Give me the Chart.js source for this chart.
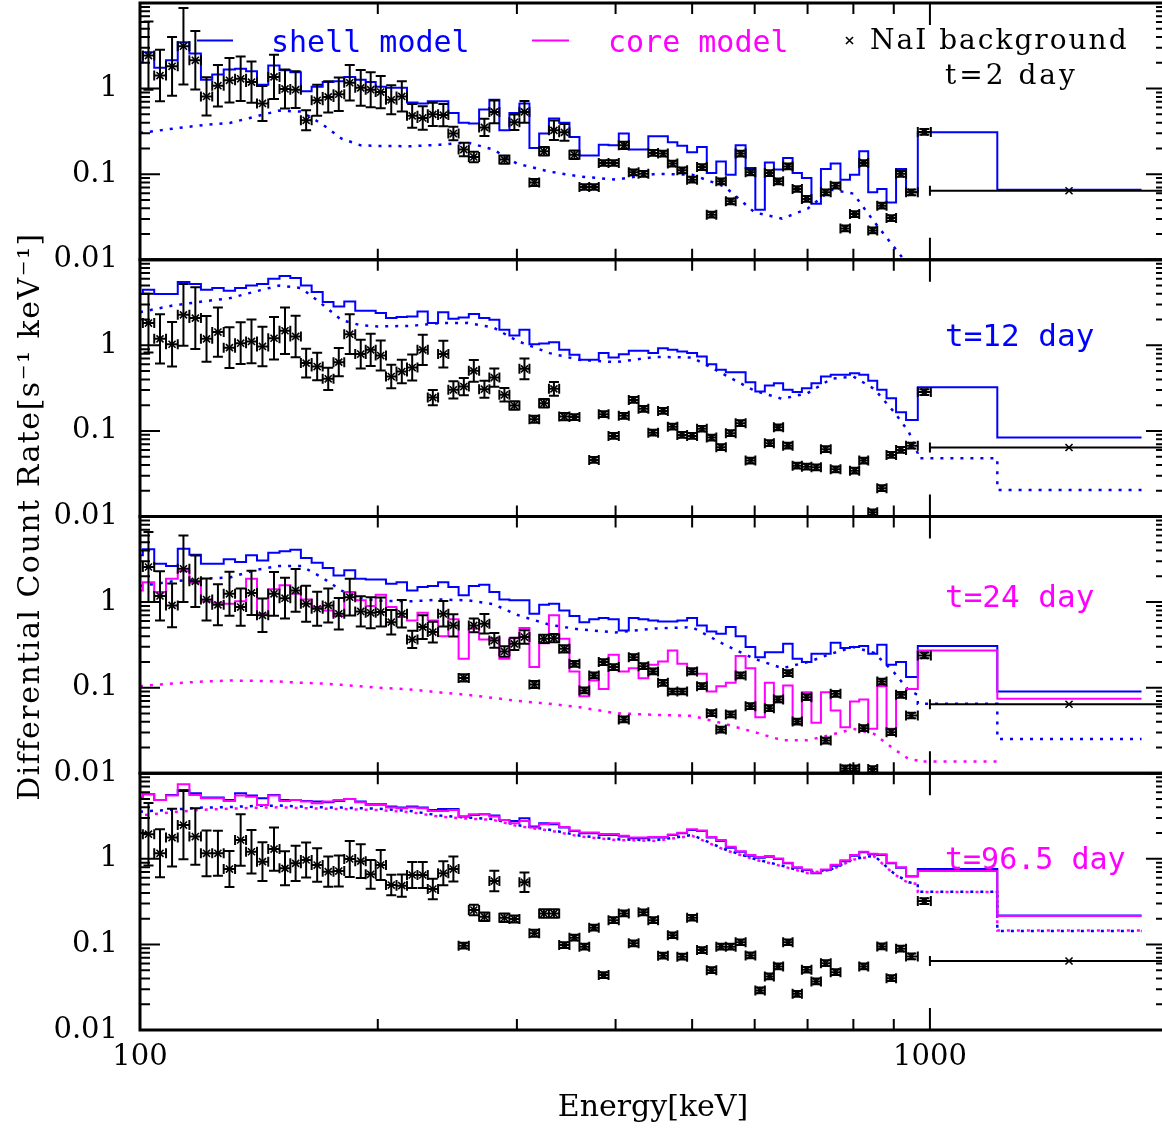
<!DOCTYPE html>
<html>
<head>
<meta charset="utf-8">
<title>Differential count rate spectra</title>
<script src="https://cdn.jsdelivr.net/npm/chart.js@4.4.1/dist/chart.umd.min.js"></script>
<style>
  html, body { margin: 0; padding: 0; background: #fff; overflow: hidden; width: 1162px; height: 1130px; }
  #wrap { position: absolute; left: 0; top: 0; width: 1166px; height: 1130px; }
</style>
</head>
<body>
<div id="wrap"><canvas id="spectra" width="1166" height="1130" style="width:1166px;height:1130px"></canvas></div>
<script>
// ---- channel centre energies (keV) ----
const energy = [99.2,
  102.5, 106.0, 109.8, 113.5, 117.5, 121.4, 125.5, 129.8, 134.1, 138.4,
  142.9, 147.8, 152.6, 157.4, 162.3, 167.6, 173.1, 178.5, 184.3, 190.3,
  195.9, 201.7, 208.0, 214.5, 221.1, 228.0, 234.8, 242.1, 249.3, 257.0,
  264.6, 272.9, 280.9, 289.3, 297.8, 306.7, 315.7, 324.6, 334.2, 344.6,
  354.8, 365.3, 375.6, 386.2, 397.6, 410.0, 421.5, 434.0, 446.2, 459.4,
  472.3, 485.6, 500.0, 514.6, 529.1, 544.0, 559.4, 575.9, 592.9, 609.5,
  626.7, 642.5, 661.4, 679.0, 698.2, 717.8, 738.0, 759.8, 781.2, 803.1,
  824.5, 846.4, 869.0, 893.5, 918.7, 947.1, 983.8];
// upper edges of the two broad model bins (keV)
const wideEdges = [1217, 1853];
// energies at which the continuum (dotted) curves are tabulated (keV)
const curveEnergy = [100, 110, 120, 130, 140, 150, 160, 170, 180, 190, 200, 220, 240, 260, 280, 300,
  330, 360, 400, 450, 500, 550, 600, 650, 700, 750, 800, 850, 900, 940, 965];

// ---- NaI background ----
const bgEnergy = 1500;
const bgRange = [1000, 2250];
const bgRate = 0.064;

// ---- tick labels ----
const yTickVals = [0.01, 0.1, 1];
const yTickText = ['0.01', '0.1', '1'];
const xTickVals = [100, 1000];
const xTickText = ['100', '1000'];

// ---- t = 2 day ----
const rateDay2 = [null,
  2.43, 1.42, 1.82, 3.13, 2.14, 0.81, 1.08, 1.25, 1.30, 1.19,
  0.67, 1.37, 0.99, 0.97, 0.426, 0.73, 0.80, 0.86, 1.17, 1.02,
  0.97, 0.91, 0.74, 0.81, 0.48, 0.454, 0.50, 0.49, 0.298, 0.194,
  0.159, 0.352, 0.534, 0.148, 0.404, 0.534, 0.080, 0.185, 0.325, 0.308,
  0.169, 0.0708, 0.0708, 0.135, 0.135, 0.217, 0.105, 0.101, 0.177, 0.174,
  0.133, 0.111, 0.0863, 0.121, 0.0336, 0.0824, 0.0481, 0.174, 0.105, null,
  0.103, 0.0824, 0.123, 0.0671, 0.0513, null, 0.0613, 0.0734, 0.0232, 0.0342,
  0.135, 0.0220, 0.0428, 0.0307, 0.101, 0.0613, 0.312];
const errDay2 = [null,
  2.5, 2.0, 2.2, 2.8, 2.2, 1.67, 1.75, 1.82, 1.82, 1.74,
  1.6, 1.81, 1.69, 1.64, 1.31, 1.52, 1.52, 1.57, 1.61, 1.62,
  1.6, 1.54, 1.48, 1.5, 1.38, 1.37, 1.37, 1.35, 1.2, 1.2,
  1.15, 1.26, 1.36, 1.12, 1.23, 1.34, 1.1, 1.12, 1.3, 1.25,
  1.12, 1.08, 1.08, 1.08, 1.08, 1.1, 1.08, 1.08, 1.08, 1.08,
  1.08, 1.08, 1.08, 1.08, 1.08, 1.08, 1.08, 1.08, 1.08, 1.08,
  1.08, 1.08, 1.08, 1.08, 1.08, 1.08, 1.08, 1.08, 1.08, 1.08,
  1.08, 1.08, 1.08, 1.08, 1.08, 1.08, 1.08];
const shellDay2 = [2.03, 2.66, 1.75, 2.14, 3.48, 2.57, 1.27, 1.46, 1.67, 1.71,
  1.59, 1.11, 1.86, 1.64, 1.55, 0.93, 1.05, 1.19, 1.22, 1.37,
  1.27, 1.19, 1.05, 1.02, 1.02, 0.69, 0.67, 0.71, 0.71, 0.52,
  0.40, 0.39, 0.57, 0.74, 0.325, 0.52, 0.67, 0.202, 0.298, 0.446,
  0.40, 0.272, 0.165, 0.165, 0.221, 0.218, 0.298, 0.194, 0.194, 0.277,
  0.277, 0.236, 0.215, 0.180, 0.208, 0.103, 0.141, 0.0987, 0.217, 0.118,
  0.0385, 0.137, 0.113, 0.155, 0.103, 0.0903, 0.0452, 0.115, 0.133, 0.0863,
  0.0987, 0.185, 0.0613, 0.0671, 0.0468, 0.115, 0.0613, 0.308, 0.0659];
const shellContDay2 = [0.303, 0.340, 0.374, 0.397, 0.471, 0.553, 0.538, 0.385, 0.260, 0.218, 0.214,
  0.212, 0.221, 0.234, 0.194, 0.133, 0.107, 0.0942, 0.0863, 0.101, 0.0987, 0.0714, 0.0357, 0.0302,
  0.0395, 0.0659, 0.0592, 0.0278, 0.0142, 0.0085, 0.006];
const shellContDay2Wide = [null, null];

// ---- t = 12 day ----
const rateDay12 = [null,
  1.82, 1.19, 1.03, 2.27, 2.08, 1.19, 1.43, 0.94, 1.06, 1.11,
  0.97, 1.21, 1.48, 1.27, 0.62, 0.565, 0.406, 0.636, 1.35, 0.79,
  0.885, 0.76, 0.432, 0.494, 0.55, 0.885, 0.245, 0.79, 0.302, 0.330,
  0.503, 0.307, 0.420, 0.264, 0.198, 0.531, 0.137, 0.211, 0.310, 0.147,
  0.145, null, 0.0458, 0.157, 0.0874, 0.150, 0.230, 0.181, 0.0955, 0.171,
  0.112, 0.0898, 0.0874, 0.106, 0.0835, 0.0645, 0.094, 0.123, 0.045, null,
  0.0718, 0.110, 0.0673, 0.0393, 0.0382, 0.0376, 0.0611, 0.0356, null, 0.0343,
  0.0450, 0.0112, 0.0214, 0.0524, 0.060, 0.0673, 0.284];
const errDay12 = [null,
  2.2, 1.94, 1.82, 2.3, 2.3, 1.85, 1.94, 1.73, 1.75, 1.8,
  1.7, 1.77, 1.87, 1.75, 1.47, 1.45, 1.35, 1.46, 1.71, 1.47,
  1.54, 1.5, 1.37, 1.37, 1.42, 1.5, 1.23, 1.43, 1.26, 1.26,
  1.34, 1.26, 1.28, 1.2, 1.12, 1.32, 1.1, 1.12, 1.2, 1.1,
  1.08, 1.08, 1.08, 1.08, 1.08, 1.08, 1.08, 1.08, 1.08, 1.08,
  1.08, 1.08, 1.08, 1.08, 1.08, 1.08, 1.08, 1.08, 1.08, 1.08,
  1.08, 1.08, 1.08, 1.08, 1.08, 1.08, 1.08, 1.08, 1.08, 1.08,
  1.08, 1.08, 1.08, 1.08, 1.08, 1.08, 1.08];
const shellDay12 = [3.97, 4.46, 3.97, 3.97, 5.48, 5.20, 4.46, 4.67, 4.34, 4.67,
  5.00, 5.20, 6.00, 6.44, 6.11, 5.00, 4.19, 3.20, 2.84, 3.25,
  2.53, 2.53, 2.38, 2.08, 2.14, 2.17, 2.48, 1.82, 2.44, 2.04,
  2.11, 2.32, 2.08, 1.99, 1.52, 1.30, 1.52, 1.03, 1.05, 1.09,
  0.885, 0.774, 0.677, 0.677, 0.811, 0.720, 0.789, 0.862, 0.862, 0.811,
  0.927, 0.885, 0.846, 0.811, 0.739, 0.603, 0.517, 0.486, 0.486, 0.371,
  0.288, 0.339, 0.361, 0.302, 0.284, 0.316, 0.361, 0.432, 0.452, 0.452,
  0.473, 0.452, 0.385, 0.302, 0.241, 0.165, 0.134, 0.324, 0.0835];
const shellContDay12 = [2.44, 2.92, 3.25, 3.56, 4.26, 5.00, 4.67, 3.03, 1.97, 1.72, 1.66,
  1.69, 1.82, 1.83, 1.62, 1.13, 0.811, 0.677, 0.636, 0.733, 0.720, 0.452, 0.294, 0.237,
  0.276, 0.406, 0.432, 0.310, 0.168, 0.0982, 0.0548];
const shellContDay12Wide = [0.048, 0.0204];

// ---- t = 24 day ----
const rateDay24 = [null,
  2.57, 1.18, 0.915, 2.45, 1.75, 1.07, 0.93, 1.25, 0.875, 1.28,
  0.70, 1.25, 1.11, 1.37, 0.955, 0.836, 0.915, 0.73, 1.14, 0.778,
  0.75, 0.765, 0.583, 0.73, 0.366, 0.51, 0.446, 0.73, 0.534, 0.130,
  0.534, 0.557, 0.356, 0.265, 0.325, 0.39, 0.109, 0.372, 0.379, 0.284,
  0.190, 0.0927, 0.139, 0.199, 0.174, 0.0425, 0.227, 0.178, 0.155, 0.114,
  0.0902, 0.0902, 0.155, 0.104, 0.0503, 0.0324, 0.0486, 0.139, 0.0608, null,
  0.0576, 0.0728, 0.148, 0.0402, 0.0774, null, 0.0241, 0.0847, 0.0114, 0.0114,
  0.0336, 0.0112, 0.118, 0.0302, 0.0824, 0.0473, 0.238];
const errDay24 = [null,
  2.57, 1.94, 1.8, 2.45, 2.0, 1.76, 1.74, 1.81, 1.65, 1.81,
  1.57, 1.8, 1.73, 1.78, 1.62, 1.58, 1.58, 1.53, 1.64, 1.5,
  1.52, 1.48, 1.39, 1.45, 1.26, 1.38, 1.32, 1.41, 1.35, 1.1,
  1.2, 1.3, 1.22, 1.15, 1.18, 1.2, 1.1, 1.12, 1.12, 1.1,
  1.08, 1.08, 1.08, 1.08, 1.08, 1.08, 1.08, 1.08, 1.08, 1.08,
  1.08, 1.08, 1.08, 1.08, 1.08, 1.08, 1.08, 1.08, 1.08, 1.08,
  1.08, 1.08, 1.08, 1.08, 1.08, 1.08, 1.08, 1.08, 1.08, 1.08,
  1.08, 1.08, 1.08, 1.08, 1.08, 1.08, 1.08];
const shellDay24 = [3.52, 4.13, 2.81, 2.64, 4.20, 3.57, 2.81, 2.81, 3.16, 2.94,
  3.52, 3.07, 3.78, 3.92, 4.09, 3.27, 2.88, 2.50, 2.05, 2.35,
  1.87, 1.84, 1.84, 1.64, 1.71, 1.37, 1.50, 1.54, 1.71, 1.50,
  1.20, 1.54, 1.59, 1.31, 1.07, 1.05, 1.05, 0.73, 0.93, 0.955,
  0.80, 0.686, 0.583, 0.628, 0.650, 0.628, 0.467, 0.650, 0.628, 0.611,
  0.594, 0.594, 0.611, 0.650, 0.534, 0.454, 0.426, 0.51, 0.40, 0.298,
  0.227, 0.260, 0.260, 0.325, 0.217, 0.199, 0.249, 0.249, 0.334, 0.290,
  0.298, 0.306, 0.249, 0.317, 0.185, 0.199, 0.133, 0.306, 0.0903];
const coreDay24 = [1.37, 1.71, 1.31, 1.87, 2.29, 1.68, 1.02, 0.98, 0.955, 1.02,
  1.87, 0.73, 1.41, 1.57, 1.25, 1.07, 0.875, 0.80, 0.686, 1.31,
  1.05, 0.898, 1.22, 0.875, 0.668, 0.611, 0.75, 0.611, 0.40, 0.628,
  0.217, 0.487, 0.366, 0.379, 0.217, 0.379, 0.497, 0.174, 0.33, 0.70,
  0.372, 0.155, 0.0796, 0.121, 0.0968, 0.242, 0.155, 0.169, 0.129, 0.185,
  0.202, 0.272, 0.190, 0.169, 0.145, 0.0903, 0.104, 0.114, 0.234, 0.169,
  0.0452, 0.114, 0.0677, 0.106, 0.0377, 0.0886, 0.0388, 0.0886, 0.0541, 0.0345,
  0.069, 0.0728, 0.033, 0.104, 0.033, 0.0847, 0.0968, 0.272, 0.074];
const shellContDay24 = [1.54, 1.75, 1.87, 1.94, 2.37, 2.64, 2.64, 1.94, 1.36, 1.11, 1.04,
  1.02, 1.07, 1.05, 0.948, 0.71, 0.543, 0.480, 0.442, 0.492, 0.51, 0.317, 0.217, 0.169,
  0.199, 0.249, 0.298, 0.255, 0.152, 0.0927, 0.0824];
const shellContDay24Wide = [0.0647, 0.0252];
const coreContDay24 = [0.104, 0.112, 0.118, 0.121, 0.12, 0.118, 0.114, 0.112, 0.108, 0.104, 0.100,
  0.0953, 0.0879, 0.0824, 0.076, 0.0701, 0.0647, 0.0592, 0.0503, 0.0481, 0.0468, 0.0377, 0.0302, 0.0243,
  0.0243, 0.0281, 0.033, 0.0288, 0.0192, 0.0147, 0.0141];
const coreContDay24Wide = [0.0137, null];

// ---- t = 96.5 day ----
const rateDay96 = [null,
  1.94, 1.16, 1.77, 2.48, 1.82, 1.16, 1.16, 0.76, 1.66, 1.21,
  0.927, 1.30, 0.774, 0.885, 0.97, 0.846, 0.708, 0.72, 0.995, 0.94,
  0.659, 0.846, 0.494, 0.486, 0.647, 0.647, 0.444, 0.677, 0.76, 0.0966,
  0.252, 0.211, 0.55, 0.205, 0.198, 0.531, 0.135, 0.230, 0.230, 0.0982,
  0.120, 0.094, 0.157, 0.0438, 0.192, 0.230, 0.103, 0.237, 0.192, 0.0738,
  0.128, 0.0718, 0.205, 0.0858, 0.050, 0.094, 0.094, 0.106, 0.0743, 0.029,
  0.0423, 0.0553, 0.106, 0.0265, 0.0506, 0.0369, 0.0604, 0.0474, null, null,
  0.0553, null, 0.0948, 0.0403, 0.0891, 0.0724, 0.321];
const errDay96 = [null,
  2.32, 1.91, 2.18, 2.5, 2.14, 1.85, 1.83, 1.62, 2.0, 1.79,
  1.68, 1.79, 1.58, 1.61, 1.6, 1.57, 1.5, 1.52, 1.62, 1.57,
  1.47, 1.5, 1.32, 1.35, 1.42, 1.42, 1.32, 1.38, 1.4, 1.08,
  1.15, 1.12, 1.32, 1.12, 1.1, 1.3, 1.1, 1.12, 1.12, 1.08,
  1.08, 1.08, 1.08, 1.08, 1.08, 1.08, 1.08, 1.08, 1.08, 1.08,
  1.08, 1.08, 1.08, 1.08, 1.08, 1.08, 1.08, 1.08, 1.08, 1.08,
  1.08, 1.08, 1.08, 1.08, 1.08, 1.08, 1.08, 1.08, 1.08, 1.08,
  1.08, 1.08, 1.08, 1.08, 1.08, 1.08, 1.08];
const shellDay96 = [5.10, 5.68, 4.87, 5.57, 6.38, 5.84, 5.20, 5.20, 4.87, 5.84,
  5.48, 5.10, 5.57, 4.87, 4.87, 4.74, 4.67, 4.58, 4.74, 5.00,
  4.67, 4.34, 4.34, 4.08, 3.97, 4.08, 3.97, 3.72, 3.82, 3.82,
  3.12, 3.25, 3.31, 3.20, 2.84, 2.77, 2.98, 2.38, 2.60, 2.53,
  2.32, 2.11, 1.99, 1.99, 1.90, 1.90, 1.82, 1.74, 1.74, 1.77,
  1.77, 1.90, 1.99, 2.17, 2.11, 1.77, 1.62, 1.35, 1.21, 1.09,
  1.03, 1.06, 0.995, 0.885, 0.789, 0.739, 0.677, 0.739, 0.832, 0.94,
  1.09, 1.19, 1.13, 1.11, 0.885, 0.789, 0.62, 0.76, 0.217];
const coreDay96 = [5.00, 5.68, 4.87, 5.48, 7.43, 5.57, 5.10, 5.10, 4.74, 5.48,
  5.30, 4.26, 5.48, 4.74, 4.87, 4.67, 4.46, 4.67, 4.87, 5.00,
  4.58, 4.26, 4.26, 3.97, 3.90, 3.97, 3.90, 3.62, 3.62, 3.72,
  3.12, 3.31, 3.31, 3.12, 2.84, 2.60, 2.77, 2.32, 2.53, 2.60,
  2.36, 2.15, 2.03, 2.03, 1.95, 1.95, 1.86, 1.78, 1.78, 1.80,
  1.80, 1.93, 2.02, 2.21, 2.15, 1.80, 1.66, 1.38, 1.23, 1.11,
  1.05, 1.08, 1.01, 0.90, 0.80, 0.75, 0.69, 0.75, 0.85, 0.96,
  1.11, 1.21, 1.15, 1.13, 0.90, 0.80, 0.63, 0.72, 0.215];
const shellContDay96 = [3.56, 3.76, 3.97, 4.03, 4.15, 4.19, 4.08, 4.00, 3.97, 3.90, 3.86,
  3.62, 3.20, 3.03, 2.92, 2.48, 2.19, 1.87, 1.69, 1.65, 1.90, 1.29, 0.995, 0.832,
  0.69, 0.754, 0.995, 1.09, 0.677, 0.531, 0.517];
const shellContDay96Wide = [0.413, 0.143];
const coreContDay96 = [3.2, 3.5, 3.75, 3.85, 3.95, 4.0, 3.92, 3.85, 3.82, 3.76, 3.72,
  3.5, 3.1, 2.95, 2.85, 2.42, 2.14, 1.83, 1.66, 1.62, 1.86, 1.27, 0.98, 0.82,
  0.68, 0.74, 0.98, 1.07, 0.665, 0.52, 0.51];
const coreContDay96Wide = [0.41, 0.145];

// ---- derived geometry: channel boundaries (geometric mid-points) ----
const bounds = [];
bounds.push(energy[0] * energy[0] / Math.sqrt(energy[0] * energy[1]));
for (let i = 1; i < energy.length; i++) bounds.push(Math.sqrt(energy[i - 1] * energy[i]));
bounds.push(energy[energy.length - 1] * energy[energy.length - 1] / bounds[bounds.length - 1]);

function points(rate, err) {
  return energy.map((e, i) => ({ x: e, y: rate[i], xMin: bounds[i], xMax: bounds[i + 1], f: err[i] }));
}
function steps(vals) {
  const edges = bounds.slice(0, 78).concat(wideEdges);
  const pts = vals.map((v, i) => ({ x: edges[i], y: v }));
  pts.push({ x: edges[edges.length - 1], y: vals[vals.length - 1] });
  return pts;
}
function curve(vals, wide) {
  const pts = curveEnergy.map((e, i) => ({ x: e, y: vals[i] }));
  if (wide[0] != null) {
    pts.push({ x: bounds[77], y: wide[0] }, { x: wideEdges[0], y: wide[0] });
    if (wide[1] != null) pts.push({ x: wideEdges[0], y: wide[1] }, { x: wideEdges[1], y: wide[1] });
  }
  return pts;
}
function background() {
  return [{ x: bgEnergy, y: bgRate, xMin: bgRange[0], xMax: bgRange[1], f: 1 }];
}

const BLUE = '#0000ff', MAGENTA = '#ff00ff', BLACK = '#000000';

function dataSet(pts, axis) {
  return { type: 'line', data: pts, yAxisID: axis, showLine: false, errorBars: true, order: 0,
    pointStyle: 'crossRot', pointRadius: 5, pointBorderWidth: 1.6, pointBorderColor: BLACK,
    pointBackgroundColor: BLACK, borderColor: BLACK };
}
function stepSet(pts, axis, color, order) {
  return { type: 'line', data: pts, yAxisID: axis, stepped: true, borderColor: color, borderWidth: 2,
    pointRadius: 0, fill: false, order: order };
}
function curveSet(pts, axis, color, order, offset) {
  return { type: 'line', data: pts, yAxisID: axis, borderColor: color, borderWidth: 2.5,
    borderDash: [3, 7], borderDashOffset: offset || 0, pointRadius: 0, fill: false, tension: 0, order: order };
}

const datasets = [
  dataSet(points(rateDay2, errDay2), 'yDay2'),
  dataSet(background(), 'yDay2'),
  stepSet(steps(shellDay2), 'yDay2', BLUE, 3),
  curveSet(curve(shellContDay2, shellContDay2Wide), 'yDay2', BLUE, 5),

  dataSet(points(rateDay12, errDay12), 'yDay12'),
  dataSet(background(), 'yDay12'),
  stepSet(steps(shellDay12), 'yDay12', BLUE, 3),
  curveSet(curve(shellContDay12, shellContDay12Wide), 'yDay12', BLUE, 5),

  dataSet(points(rateDay24, errDay24), 'yDay24'),
  dataSet(background(), 'yDay24'),
  stepSet(steps(coreDay24), 'yDay24', MAGENTA, 2),
  stepSet(steps(shellDay24), 'yDay24', BLUE, 3),
  curveSet(curve(coreContDay24, coreContDay24Wide), 'yDay24', MAGENTA, 4),
  curveSet(curve(shellContDay24, shellContDay24Wide), 'yDay24', BLUE, 5),

  dataSet(points(rateDay96, errDay96), 'yDay96'),
  dataSet(background(), 'yDay96'),
  stepSet(steps(coreDay96), 'yDay96', MAGENTA, 2),
  stepSet(steps(shellDay96), 'yDay96', BLUE, 3),
  curveSet(curve(coreContDay96, coreContDay96Wide), 'yDay96', MAGENTA, 4, 5),
  curveSet(curve(shellContDay96, shellContDay96Wide), 'yDay96', BLUE, 5)
];

const panelIds = ['yDay2', 'yDay12', 'yDay24', 'yDay96'];
const CAP = 5;
const SERIF = 'DejaVu Serif';
const MONO = 'DejaVu Sans Mono';

function yAxis(weight) {
  return {
    type: 'logarithmic', position: 'left', stack: 'panels', stackWeight: 1, weight: weight,
    min: 0.01, max: 10, offset: false,
    grid: { display: false, drawTicks: false }, border: { display: false },
    afterBuildTicks: s => { s.ticks = yTickVals.map(v => ({ value: v })); },
    afterFit: s => { s.width = 140; s.paddingTop = 0; s.paddingBottom = 0; },
    ticks: { font: { family: SERIF, size: 29 }, color: BLACK, padding: 22, autoSkip: false,
      callback: (v, i) => yTickText[i] }
  };
}

function drawText(ctx, text, x, y, font, color, spacing) {
  ctx.font = font;
  ctx.fillStyle = color;
  ctx.letterSpacing = spacing || '0px';
  ctx.textAlign = 'left';
  ctx.textBaseline = 'alphabetic';
  ctx.fillText(text, x, y);
  ctx.letterSpacing = '0px';
}

const panelPlugin = {
  id: 'panelPlugin',
  beforeDatasetDraw(chart, args) {
    const ds = chart.data.datasets[args.index];
    const ys = chart.scales[ds.yAxisID];
    const xs = chart.scales.x;
    const a = chart.chartArea;
    const ctx = chart.ctx;
    ctx.save();
    ctx.beginPath();
    ctx.rect(a.left, ys.top, a.right - a.left, ys.bottom - ys.top);
    ctx.clip();
    if (ds.errorBars) {
      ctx.save();
      ctx.strokeStyle = BLACK;
      ctx.lineWidth = 2;
      ctx.beginPath();
      for (const p of ds.data) {
        if (p.y == null) continue;
        const px = xs.getPixelForValue(p.x), py = ys.getPixelForValue(p.y);
        const xa = xs.getPixelForValue(p.xMin), xb = xs.getPixelForValue(p.xMax);
        ctx.moveTo(xa, py); ctx.lineTo(xb, py);
        ctx.moveTo(xa, py - CAP); ctx.lineTo(xa, py + CAP);
        ctx.moveTo(xb, py - CAP); ctx.lineTo(xb, py + CAP);
        if (p.f > 1) {
          const ya = ys.getPixelForValue(p.y * p.f), yb = ys.getPixelForValue(p.y / p.f);
          ctx.moveTo(px, ya); ctx.lineTo(px, yb);
          ctx.moveTo(px - CAP, ya); ctx.lineTo(px + CAP, ya);
          ctx.moveTo(px - CAP, yb); ctx.lineTo(px + CAP, yb);
        }
      }
      ctx.stroke();
      ctx.restore();
    }
  },
  afterDatasetDraw(chart) {
    chart.ctx.restore();
  },
  afterDraw(chart) {
    const ctx = chart.ctx, xs = chart.scales.x, a = chart.chartArea;
    ctx.save();
    ctx.strokeStyle = BLACK;
    // frames and inward ticks for every panel
    for (const id of panelIds) {
      const ys = chart.scales[id];
      ctx.lineWidth = 2;
      ctx.beginPath();
      for (let k = -2; k <= 1; k++) {
        for (let m = 1; m <= 9; m++) {
          const v = m * Math.pow(10, k);
          if (v < 0.0099 || v > 10.01) continue;
          const py = ys.getPixelForValue(v);
          const len = m === 1 ? 20 : 10;
          ctx.moveTo(a.left, py); ctx.lineTo(a.left + len, py);
          ctx.moveTo(a.right, py); ctx.lineTo(a.right - len, py);
        }
      }
      for (let m = 2; m <= 10; m++) {
        const px = xs.getPixelForValue(m * 100);
        const len = m === 10 ? 22 : 11;
        ctx.moveTo(px, ys.top); ctx.lineTo(px, ys.top + len);
        ctx.moveTo(px, ys.bottom); ctx.lineTo(px, ys.bottom - len);
      }
      ctx.stroke();
      ctx.lineWidth = 3;
      ctx.strokeRect(a.left, ys.top, a.right - a.left, ys.bottom - ys.top);
    }

    // legend
    ctx.lineWidth = 2;
    ctx.strokeStyle = BLUE;
    ctx.beginPath(); ctx.moveTo(197, 40.5); ctx.lineTo(233, 40.5); ctx.stroke();
    drawText(ctx, 'shell model', 271, 51.5, '30px "' + MONO + '"', BLUE);
    ctx.strokeStyle = MAGENTA;
    ctx.beginPath(); ctx.moveTo(532, 40.5); ctx.lineTo(569, 40.5); ctx.stroke();
    drawText(ctx, 'core model', 608, 51.5, '30px "' + MONO + '"', MAGENTA);
    ctx.strokeStyle = BLACK;
    ctx.lineWidth = 1.6;
    ctx.beginPath();
    ctx.moveTo(846, 37); ctx.lineTo(853, 44);
    ctx.moveTo(853, 37); ctx.lineTo(846, 44);
    ctx.stroke();
    drawText(ctx, 'NaI background', 870, 48.5, '28px "' + SERIF + '"', BLACK, '2px');

    // epoch labels
    drawText(ctx, 't=2 day', 945, 83.5, '28px "' + SERIF + '"', BLACK, '3px');
    drawText(ctx, 't=12 day', 945, 346, '31px "' + MONO + '"', BLUE);
    drawText(ctx, 't=24 day', 945, 607, '31px "' + MONO + '"', MAGENTA);
    drawText(ctx, 't=96.5 day', 945, 869, '30px "' + MONO + '"', MAGENTA);

    // vertical axis title shared by the four panels
    const top = chart.scales[panelIds[0]].top, bottom = chart.scales[panelIds[3]].bottom;
    ctx.translate(31, (top + bottom) / 2);
    ctx.rotate(-Math.PI / 2);
    ctx.font = '30px "' + SERIF + '"';
    ctx.letterSpacing = '1.5px';
    ctx.fillStyle = BLACK;
    ctx.textAlign = 'center';
    ctx.textBaseline = 'middle';
    ctx.fillText('Differential Count Rate[s\u207B\u00B9 keV\u207B\u00B9]', 0, 0);
    ctx.restore();
  }
};

Chart.defaults.font.family = SERIF;

new Chart(document.getElementById('spectra'), {
  type: 'line',
  data: { datasets: datasets },
  options: {
    responsive: false,
    animation: false,
    events: [],
    layout: { autoPadding: false, padding: { top: 3, left: 0, right: 0, bottom: 0 } },
    plugins: { legend: { display: false }, tooltip: { enabled: false } },
    scales: {
      x: {
        type: 'logarithmic', position: 'bottom', min: 100, max: 1990,
        grid: { display: false, drawTicks: false }, border: { display: false },
        afterBuildTicks: s => { s.ticks = xTickVals.map(v => ({ value: v })); },
        afterFit: s => { s.height = 100; s.paddingLeft = 0; s.paddingRight = 0; },
        ticks: { font: { family: SERIF, size: 29 }, color: BLACK, padding: 10, maxRotation: 0, autoSkip: false,
          callback: (v, i) => xTickText[i] },
        title: { display: true, text: 'Energy[keV]', font: { family: SERIF, size: 30 }, color: BLACK,
          padding: { top: 0, bottom: 4 } }
      },
      yDay2: yAxis(4),
      yDay12: yAxis(3),
      yDay24: yAxis(2),
      yDay96: yAxis(1)
    }
  },
  plugins: [panelPlugin]
});
</script>
</body>
</html>
